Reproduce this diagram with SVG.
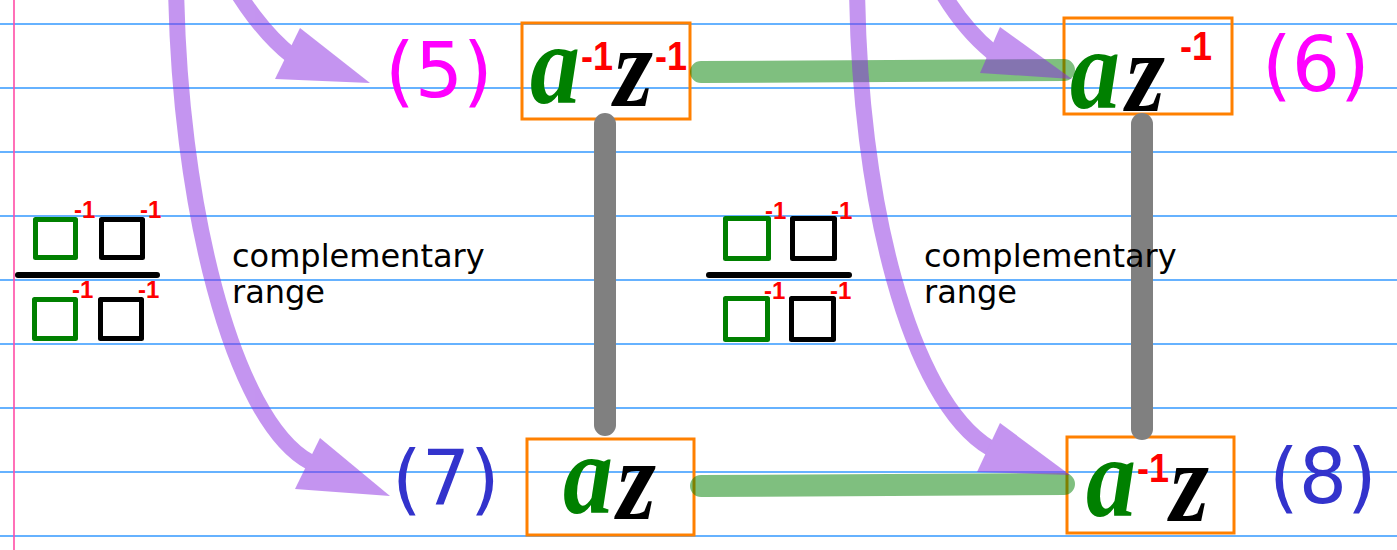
<svg xmlns="http://www.w3.org/2000/svg" width="1397" height="550" viewBox="0 0 1397 550">
<style>
.rule{stroke:#3399ff;stroke-width:1.3}
.box{fill:none;stroke:#ff8000;stroke-width:3}
.lbl{font-family:"DejaVu Sans",sans-serif;font-size:76px}
.mag{fill:#ff00ff}
.blu{fill:#3333cc}
.hw{font-family:"Liberation Serif",serif;font-style:italic;font-weight:bold;font-size:100px}
.ga{fill:#008000}
.bz{fill:#000}
.sup{font-family:"Liberation Sans",sans-serif;font-style:normal;font-weight:bold;font-size:36px;fill:#ff0000}
.sq{fill:none;stroke-width:5;stroke-linejoin:round}
.sqg{stroke:#008000}
.sqk{stroke:#000}
.bar{stroke:#000;stroke-width:6;stroke-linecap:round}
.m1{font-family:"Liberation Sans",sans-serif;font-weight:bold;font-size:24px;fill:#ff0000}
.note{font-family:"DejaVu Sans",sans-serif;font-size:32px;fill:#000}
.green{stroke:#008000;stroke-opacity:0.5;stroke-width:22;stroke-linecap:round;fill:none}
.gray{stroke:#808080;stroke-width:22;stroke-linecap:round;fill:none}
.pshaft{stroke:#8a2be2;stroke-width:16;fill:none}
.phead{fill:#8a2be2}
</style>
<rect width="1397" height="550" fill="#ffffff"/>
<g id="paper">
<line class="rule" x1="0" y1="24" x2="1397" y2="24"/>
<line class="rule" x1="0" y1="88" x2="1397" y2="88"/>
<line class="rule" x1="0" y1="152" x2="1397" y2="152"/>
<line class="rule" x1="0" y1="216" x2="1397" y2="216"/>
<line class="rule" x1="0" y1="280" x2="1397" y2="280"/>
<line class="rule" x1="0" y1="344" x2="1397" y2="344"/>
<line class="rule" x1="0" y1="408" x2="1397" y2="408"/>
<line class="rule" x1="0" y1="472" x2="1397" y2="472"/>
<line class="rule" x1="0" y1="536" x2="1397" y2="536"/>
<line x1="14" y1="0" x2="14" y2="550" stroke="#ff4da6" stroke-width="1.6"/>
</g>
<g id="fraction-left">
<rect class="sq sqg" x="35.5" y="219.5" width="40" height="38"/>
<rect class="sq sqk" x="101.5" y="219.5" width="41" height="38"/>
<line class="bar" x1="18" y1="275" x2="157" y2="275"/>
<rect class="sq sqg" x="34.5" y="299.5" width="41" height="39"/>
<rect class="sq sqk" x="100.5" y="299.5" width="41" height="39"/>
<text class="m1" x="74" y="218">-1</text>
<text class="m1" x="140" y="218">-1</text>
<text class="m1" x="72" y="298">-1</text>
<text class="m1" x="138" y="298">-1</text>
</g>
<g id="fraction-right">
<rect class="sq sqg" x="725.5" y="218.5" width="43" height="40"/>
<rect class="sq sqk" x="792.5" y="218.5" width="42" height="40"/>
<line class="bar" x1="709" y1="275" x2="849" y2="275"/>
<rect class="sq sqg" x="725.5" y="298.5" width="42" height="41"/>
<rect class="sq sqk" x="791.5" y="298.5" width="42" height="41"/>
<text class="m1" x="765" y="219">-1</text>
<text class="m1" x="831" y="219">-1</text>
<text class="m1" x="764" y="299">-1</text>
<text class="m1" x="830" y="299">-1</text>
</g>
<g id="node5">
<rect class="box" x="522" y="23" width="168" height="96"/>
<text class="hw" transform="matrix(1 0 0 1.15 0 -15.75)"><tspan class="ga" x="530" y="103.3">a</tspan><tspan class="sup" x="581" y="74.6">-1</tspan><tspan class="bz" x="614" y="105.9">z</tspan><tspan class="sup" x="655" y="74.6">-1</tspan></text>
<text class="lbl mag" x="385" y="97">(5)</text>
</g>
<g id="node6">
<rect class="box" x="1064" y="18" width="168" height="96"/>
<text class="hw" transform="matrix(1 0 0 1.15 0 -16.5)"><tspan class="ga" x="1070" y="108.3">a</tspan><tspan class="bz" x="1126" y="110.9">z</tspan><tspan class="sup" x="1180" y="66.5">-1</tspan></text>
<text class="lbl mag" x="1262" y="91">(6)</text>
</g>
<g id="node7">
<rect class="box" x="527" y="439" width="167" height="96"/>
<text class="hw" transform="matrix(1 0 0 1.15 0 -77.25)"><tspan class="ga" x="563" y="513.3">a</tspan><tspan class="bz" x="617" y="518.5">z</tspan></text>
<text class="lbl blu" x="392" y="505">(7)</text>
</g>
<g id="node8">
<rect class="box" x="1067" y="437" width="167" height="96"/>
<text class="hw" transform="matrix(1 0 0 1.15 0 -77.7)"><tspan class="ga" x="1086" y="516.3">a</tspan><tspan class="sup" x="1137" y="486.7">-1</tspan><tspan class="bz" x="1170" y="520.6">z</tspan></text>
<text class="lbl blu" x="1269" y="503">(8)</text>
</g>
<g id="connectors">
<line class="green" x1="701" y1="72" x2="1064" y2="70"/>
<line class="green" x1="701" y1="486" x2="1064" y2="484"/>
<line class="gray" x1="605" y1="124" x2="605" y2="425"/>
<line class="gray" x1="1142" y1="124" x2="1142" y2="429"/>
<g opacity="0.5">
<path class="pshaft" d="M176,-20 C178,200 232,420 310,462"/>
<polygon class="phead" points="390,496 320,438 295,489"/>
</g>
<g opacity="0.5">
<path class="pshaft" d="M225,-30 C240,0 265,35 292,56"/>
<polygon class="phead" points="370,83 300,28 275,79"/>
</g>
<g opacity="0.5">
<path class="pshaft" d="M857,-20 C858,200 910,400 990,448"/>
<polygon class="phead" points="1070,475 1000,423 977,472"/>
</g>
<g opacity="0.5">
<path class="pshaft" d="M930,-30 C945,0 965,30 992,52"/>
<polygon class="phead" points="1072,79 1000,27 980,73"/>
</g>
</g>
<g id="notes">
<text class="note" x="232" y="267">complementary</text>
<text class="note" x="232" y="303">range</text>
<text class="note" x="924" y="267">complementary</text>
<text class="note" x="924" y="303">range</text>
</g>
</svg>
